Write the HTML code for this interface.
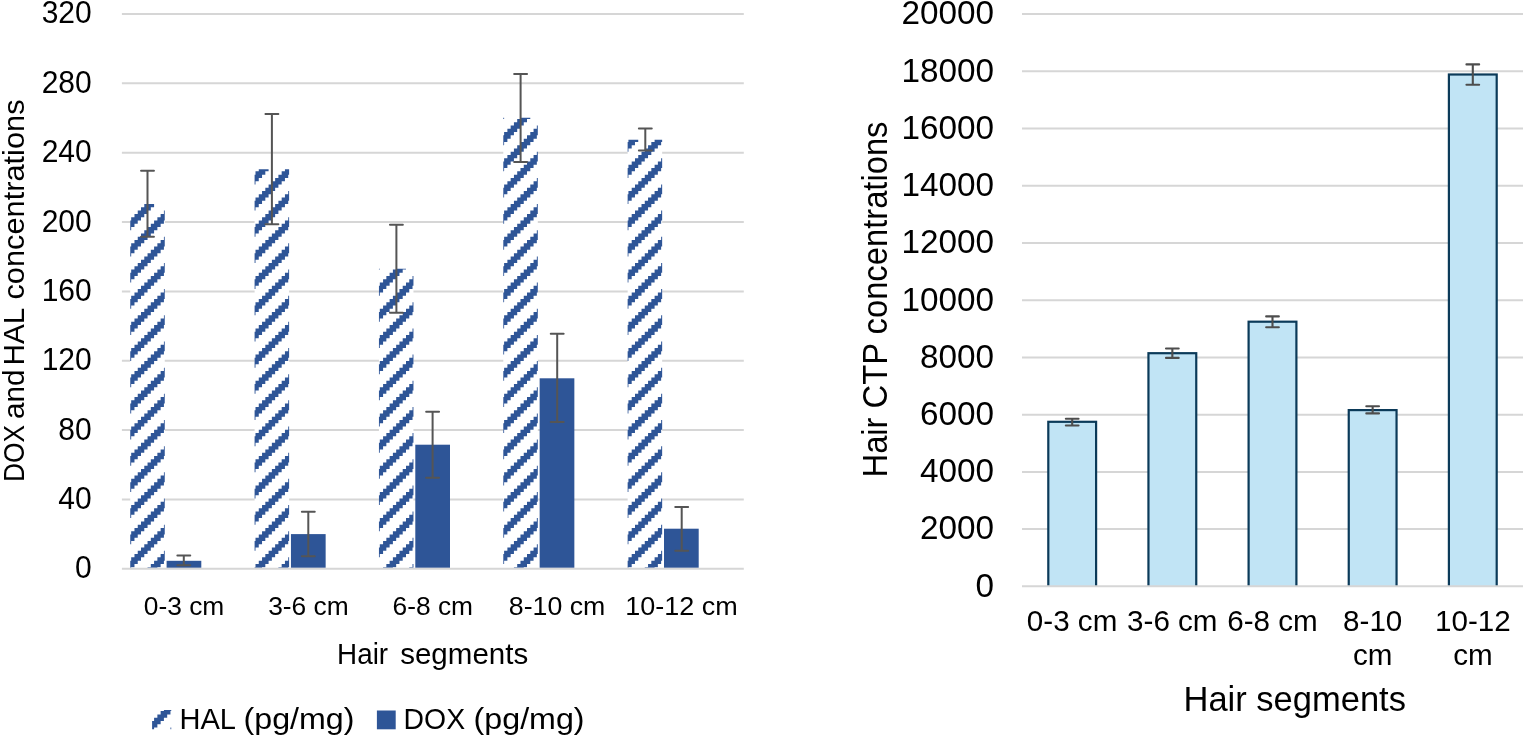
<!DOCTYPE html>
<html><head><meta charset="utf-8"><title>Chart</title>
<style>html,body{margin:0;padding:0;background:#fff;}body{width:1524px;height:737px;overflow:hidden;}svg{display:block;will-change:transform;}text{font-family:"Liberation Sans",sans-serif;fill:#000;}</style>
</head><body>
<svg width="1524" height="737" viewBox="0 0 1524 737">
<rect x="0" y="0" width="1524" height="737" fill="#fff"/>
<line x1="121.90" y1="13.92" x2="743.80" y2="13.92" stroke="#D6D6D6" stroke-width="2.00"/>
<line x1="121.90" y1="83.29" x2="743.80" y2="83.29" stroke="#D6D6D6" stroke-width="2.00"/>
<line x1="121.90" y1="152.65" x2="743.80" y2="152.65" stroke="#D6D6D6" stroke-width="2.00"/>
<line x1="121.90" y1="222.02" x2="743.80" y2="222.02" stroke="#D6D6D6" stroke-width="2.00"/>
<line x1="121.90" y1="291.39" x2="743.80" y2="291.39" stroke="#D6D6D6" stroke-width="2.00"/>
<line x1="121.90" y1="360.75" x2="743.80" y2="360.75" stroke="#D6D6D6" stroke-width="2.00"/>
<line x1="121.90" y1="430.12" x2="743.80" y2="430.12" stroke="#D6D6D6" stroke-width="2.00"/>
<line x1="121.90" y1="499.48" x2="743.80" y2="499.48" stroke="#D6D6D6" stroke-width="2.00"/>
<clipPath id="c0"><rect x="130.25" y="203.90" width="34.50" height="363.95"/></clipPath>
<rect x="130.25" y="203.90" width="34.50" height="363.95" fill="#fff"/>
<path clip-path="url(#c0)" fill="#2E5597" d="M124.65 197.53L124.65 200.80L121.38 200.80L121.38 204.07L131.19 204.07L131.19 200.80L134.47 200.80L134.47 197.53ZM150.82 197.53L150.82 200.80L147.55 200.80L147.55 204.07L144.28 204.07L144.28 207.34L141.01 207.34L141.01 210.61L137.74 210.61L137.74 213.88L134.47 213.88L134.47 217.16L131.19 217.16L131.19 220.43L127.92 220.43L127.92 223.70L124.65 223.70L124.65 226.97L121.38 226.97L121.38 230.24L131.19 230.24L131.19 226.97L134.47 226.97L134.47 223.70L137.74 223.70L137.74 220.43L141.01 220.43L141.01 217.16L144.28 217.16L144.28 213.88L147.55 213.88L147.55 210.61L150.82 210.61L150.82 207.34L154.09 207.34L154.09 204.07L157.37 204.07L157.37 200.80L160.64 200.80L160.64 197.53ZM163.91 210.61L163.91 213.88L160.64 213.88L160.64 217.16L157.37 217.16L157.37 220.43L154.09 220.43L154.09 223.70L150.82 223.70L150.82 226.97L147.55 226.97L147.55 230.24L144.28 230.24L144.28 233.51L141.01 233.51L141.01 236.78L137.74 236.78L137.74 240.05L134.47 240.05L134.47 243.32L131.19 243.32L131.19 246.60L127.92 246.60L127.92 249.87L124.65 249.87L124.65 253.14L121.38 253.14L121.38 256.41L131.19 256.41L131.19 253.14L134.47 253.14L134.47 249.87L137.74 249.87L137.74 246.60L141.01 246.60L141.01 243.32L144.28 243.32L144.28 240.05L147.55 240.05L147.55 236.78L150.82 236.78L150.82 233.51L154.09 233.51L154.09 230.24L157.37 230.24L157.37 226.97L160.64 226.97L160.64 223.70L163.91 223.70L163.91 220.43L167.18 220.43L167.18 217.16L170.45 217.16L170.45 213.88L173.72 213.88L173.72 210.61ZM163.91 236.78L163.91 240.05L160.64 240.05L160.64 243.32L157.37 243.32L157.37 246.60L154.09 246.60L154.09 249.87L150.82 249.87L150.82 253.14L147.55 253.14L147.55 256.41L144.28 256.41L144.28 259.68L141.01 259.68L141.01 262.95L137.74 262.95L137.74 266.22L134.47 266.22L134.47 269.50L131.19 269.50L131.19 272.77L127.92 272.77L127.92 276.04L124.65 276.04L124.65 279.31L121.38 279.31L121.38 282.58L131.19 282.58L131.19 279.31L134.47 279.31L134.47 276.04L137.74 276.04L137.74 272.77L141.01 272.77L141.01 269.50L144.28 269.50L144.28 266.22L147.55 266.22L147.55 262.95L150.82 262.95L150.82 259.68L154.09 259.68L154.09 256.41L157.37 256.41L157.37 253.14L160.64 253.14L160.64 249.87L163.91 249.87L163.91 246.60L167.18 246.60L167.18 243.32L170.45 243.32L170.45 240.05L173.72 240.05L173.72 236.78ZM163.91 262.95L163.91 266.22L160.64 266.22L160.64 269.50L157.37 269.50L157.37 272.77L154.09 272.77L154.09 276.04L150.82 276.04L150.82 279.31L147.55 279.31L147.55 282.58L144.28 282.58L144.28 285.85L141.01 285.85L141.01 289.12L137.74 289.12L137.74 292.39L134.47 292.39L134.47 295.66L131.19 295.66L131.19 298.94L127.92 298.94L127.92 302.21L124.65 302.21L124.65 305.48L121.38 305.48L121.38 308.75L131.19 308.75L131.19 305.48L134.47 305.48L134.47 302.21L137.74 302.21L137.74 298.94L141.01 298.94L141.01 295.66L144.28 295.66L144.28 292.39L147.55 292.39L147.55 289.12L150.82 289.12L150.82 285.85L154.09 285.85L154.09 282.58L157.37 282.58L157.37 279.31L160.64 279.31L160.64 276.04L163.91 276.04L163.91 272.77L167.18 272.77L167.18 269.50L170.45 269.50L170.45 266.22L173.72 266.22L173.72 262.95ZM163.91 289.12L163.91 292.39L160.64 292.39L160.64 295.66L157.37 295.66L157.37 298.94L154.09 298.94L154.09 302.21L150.82 302.21L150.82 305.48L147.55 305.48L147.55 308.75L144.28 308.75L144.28 312.02L141.01 312.02L141.01 315.29L137.74 315.29L137.74 318.56L134.47 318.56L134.47 321.84L131.19 321.84L131.19 325.11L127.92 325.11L127.92 328.38L124.65 328.38L124.65 331.65L121.38 331.65L121.38 334.92L131.19 334.92L131.19 331.65L134.47 331.65L134.47 328.38L137.74 328.38L137.74 325.11L141.01 325.11L141.01 321.84L144.28 321.84L144.28 318.56L147.55 318.56L147.55 315.29L150.82 315.29L150.82 312.02L154.09 312.02L154.09 308.75L157.37 308.75L157.37 305.48L160.64 305.48L160.64 302.21L163.91 302.21L163.91 298.94L167.18 298.94L167.18 295.66L170.45 295.66L170.45 292.39L173.72 292.39L173.72 289.12ZM163.91 315.29L163.91 318.56L160.64 318.56L160.64 321.84L157.37 321.84L157.37 325.11L154.09 325.11L154.09 328.38L150.82 328.38L150.82 331.65L147.55 331.65L147.55 334.92L144.28 334.92L144.28 338.19L141.01 338.19L141.01 341.46L137.74 341.46L137.74 344.73L134.47 344.73L134.47 348.00L131.19 348.00L131.19 351.28L127.92 351.28L127.92 354.55L124.65 354.55L124.65 357.82L121.38 357.82L121.38 361.09L131.19 361.09L131.19 357.82L134.47 357.82L134.47 354.55L137.74 354.55L137.74 351.28L141.01 351.28L141.01 348.00L144.28 348.00L144.28 344.73L147.55 344.73L147.55 341.46L150.82 341.46L150.82 338.19L154.09 338.19L154.09 334.92L157.37 334.92L157.37 331.65L160.64 331.65L160.64 328.38L163.91 328.38L163.91 325.11L167.18 325.11L167.18 321.84L170.45 321.84L170.45 318.56L173.72 318.56L173.72 315.29ZM163.91 341.46L163.91 344.73L160.64 344.73L160.64 348.00L157.37 348.00L157.37 351.28L154.09 351.28L154.09 354.55L150.82 354.55L150.82 357.82L147.55 357.82L147.55 361.09L144.28 361.09L144.28 364.36L141.01 364.36L141.01 367.63L137.74 367.63L137.74 370.90L134.47 370.90L134.47 374.18L131.19 374.18L131.19 377.45L127.92 377.45L127.92 380.72L124.65 380.72L124.65 383.99L121.38 383.99L121.38 387.26L131.19 387.26L131.19 383.99L134.47 383.99L134.47 380.72L137.74 380.72L137.74 377.45L141.01 377.45L141.01 374.18L144.28 374.18L144.28 370.90L147.55 370.90L147.55 367.63L150.82 367.63L150.82 364.36L154.09 364.36L154.09 361.09L157.37 361.09L157.37 357.82L160.64 357.82L160.64 354.55L163.91 354.55L163.91 351.28L167.18 351.28L167.18 348.00L170.45 348.00L170.45 344.73L173.72 344.73L173.72 341.46ZM163.91 367.63L163.91 370.90L160.64 370.90L160.64 374.18L157.37 374.18L157.37 377.45L154.09 377.45L154.09 380.72L150.82 380.72L150.82 383.99L147.55 383.99L147.55 387.26L144.28 387.26L144.28 390.53L141.01 390.53L141.01 393.80L137.74 393.80L137.74 397.07L134.47 397.07L134.47 400.35L131.19 400.35L131.19 403.62L127.92 403.62L127.92 406.89L124.65 406.89L124.65 410.16L121.38 410.16L121.38 413.43L131.19 413.43L131.19 410.16L134.47 410.16L134.47 406.89L137.74 406.89L137.74 403.62L141.01 403.62L141.01 400.35L144.28 400.35L144.28 397.07L147.55 397.07L147.55 393.80L150.82 393.80L150.82 390.53L154.09 390.53L154.09 387.26L157.37 387.26L157.37 383.99L160.64 383.99L160.64 380.72L163.91 380.72L163.91 377.45L167.18 377.45L167.18 374.18L170.45 374.18L170.45 370.90L173.72 370.90L173.72 367.63ZM163.91 393.80L163.91 397.07L160.64 397.07L160.64 400.35L157.37 400.35L157.37 403.62L154.09 403.62L154.09 406.89L150.82 406.89L150.82 410.16L147.55 410.16L147.55 413.43L144.28 413.43L144.28 416.70L141.01 416.70L141.01 419.97L137.74 419.97L137.74 423.24L134.47 423.24L134.47 426.51L131.19 426.51L131.19 429.79L127.92 429.79L127.92 433.06L124.65 433.06L124.65 436.33L121.38 436.33L121.38 439.60L131.19 439.60L131.19 436.33L134.47 436.33L134.47 433.06L137.74 433.06L137.74 429.79L141.01 429.79L141.01 426.51L144.28 426.51L144.28 423.24L147.55 423.24L147.55 419.97L150.82 419.97L150.82 416.70L154.09 416.70L154.09 413.43L157.37 413.43L157.37 410.16L160.64 410.16L160.64 406.89L163.91 406.89L163.91 403.62L167.18 403.62L167.18 400.35L170.45 400.35L170.45 397.07L173.72 397.07L173.72 393.80ZM163.91 419.97L163.91 423.24L160.64 423.24L160.64 426.51L157.37 426.51L157.37 429.79L154.09 429.79L154.09 433.06L150.82 433.06L150.82 436.33L147.55 436.33L147.55 439.60L144.28 439.60L144.28 442.87L141.01 442.87L141.01 446.14L137.74 446.14L137.74 449.41L134.47 449.41L134.47 452.69L131.19 452.69L131.19 455.96L127.92 455.96L127.92 459.23L124.65 459.23L124.65 462.50L121.38 462.50L121.38 465.77L131.19 465.77L131.19 462.50L134.47 462.50L134.47 459.23L137.74 459.23L137.74 455.96L141.01 455.96L141.01 452.69L144.28 452.69L144.28 449.41L147.55 449.41L147.55 446.14L150.82 446.14L150.82 442.87L154.09 442.87L154.09 439.60L157.37 439.60L157.37 436.33L160.64 436.33L160.64 433.06L163.91 433.06L163.91 429.79L167.18 429.79L167.18 426.51L170.45 426.51L170.45 423.24L173.72 423.24L173.72 419.97ZM163.91 446.14L163.91 449.41L160.64 449.41L160.64 452.69L157.37 452.69L157.37 455.96L154.09 455.96L154.09 459.23L150.82 459.23L150.82 462.50L147.55 462.50L147.55 465.77L144.28 465.77L144.28 469.04L141.01 469.04L141.01 472.31L137.74 472.31L137.74 475.58L134.47 475.58L134.47 478.86L131.19 478.86L131.19 482.13L127.92 482.13L127.92 485.40L124.65 485.40L124.65 488.67L121.38 488.67L121.38 491.94L131.19 491.94L131.19 488.67L134.47 488.67L134.47 485.40L137.74 485.40L137.74 482.13L141.01 482.13L141.01 478.86L144.28 478.86L144.28 475.58L147.55 475.58L147.55 472.31L150.82 472.31L150.82 469.04L154.09 469.04L154.09 465.77L157.37 465.77L157.37 462.50L160.64 462.50L160.64 459.23L163.91 459.23L163.91 455.96L167.18 455.96L167.18 452.69L170.45 452.69L170.45 449.41L173.72 449.41L173.72 446.14ZM163.91 472.31L163.91 475.58L160.64 475.58L160.64 478.86L157.37 478.86L157.37 482.13L154.09 482.13L154.09 485.40L150.82 485.40L150.82 488.67L147.55 488.67L147.55 491.94L144.28 491.94L144.28 495.21L141.01 495.21L141.01 498.48L137.74 498.48L137.74 501.75L134.47 501.75L134.47 505.03L131.19 505.03L131.19 508.30L127.92 508.30L127.92 511.57L124.65 511.57L124.65 514.84L121.38 514.84L121.38 518.11L131.19 518.11L131.19 514.84L134.47 514.84L134.47 511.57L137.74 511.57L137.74 508.30L141.01 508.30L141.01 505.03L144.28 505.03L144.28 501.75L147.55 501.75L147.55 498.48L150.82 498.48L150.82 495.21L154.09 495.21L154.09 491.94L157.37 491.94L157.37 488.67L160.64 488.67L160.64 485.40L163.91 485.40L163.91 482.13L167.18 482.13L167.18 478.86L170.45 478.86L170.45 475.58L173.72 475.58L173.72 472.31ZM163.91 498.48L163.91 501.75L160.64 501.75L160.64 505.03L157.37 505.03L157.37 508.30L154.09 508.30L154.09 511.57L150.82 511.57L150.82 514.84L147.55 514.84L147.55 518.11L144.28 518.11L144.28 521.38L141.01 521.38L141.01 524.65L137.74 524.65L137.74 527.92L134.47 527.92L134.47 531.19L131.19 531.19L131.19 534.47L127.92 534.47L127.92 537.74L124.65 537.74L124.65 541.01L121.38 541.01L121.38 544.28L131.19 544.28L131.19 541.01L134.47 541.01L134.47 537.74L137.74 537.74L137.74 534.47L141.01 534.47L141.01 531.19L144.28 531.19L144.28 527.92L147.55 527.92L147.55 524.65L150.82 524.65L150.82 521.38L154.09 521.38L154.09 518.11L157.37 518.11L157.37 514.84L160.64 514.84L160.64 511.57L163.91 511.57L163.91 508.30L167.18 508.30L167.18 505.03L170.45 505.03L170.45 501.75L173.72 501.75L173.72 498.48ZM163.91 524.65L163.91 527.92L160.64 527.92L160.64 531.19L157.37 531.19L157.37 534.47L154.09 534.47L154.09 537.74L150.82 537.74L150.82 541.01L147.55 541.01L147.55 544.28L144.28 544.28L144.28 547.55L141.01 547.55L141.01 550.82L137.74 550.82L137.74 554.09L134.47 554.09L134.47 557.37L131.19 557.37L131.19 560.64L127.92 560.64L127.92 563.91L124.65 563.91L124.65 567.18L121.38 567.18L121.38 570.45L131.19 570.45L131.19 567.18L134.47 567.18L134.47 563.91L137.74 563.91L137.74 560.64L141.01 560.64L141.01 557.37L144.28 557.37L144.28 554.09L147.55 554.09L147.55 550.82L150.82 550.82L150.82 547.55L154.09 547.55L154.09 544.28L157.37 544.28L157.37 541.01L160.64 541.01L160.64 537.74L163.91 537.74L163.91 534.47L167.18 534.47L167.18 531.19L170.45 531.19L170.45 527.92L173.72 527.92L173.72 524.65ZM163.91 550.82L163.91 554.09L160.64 554.09L160.64 557.37L157.37 557.37L157.37 560.64L154.09 560.64L154.09 563.91L150.82 563.91L150.82 567.18L147.55 567.18L147.55 570.45L144.28 570.45L144.28 573.72L141.01 573.72L141.01 576.99L150.82 576.99L150.82 573.72L154.09 573.72L154.09 570.45L157.37 570.45L157.37 567.18L160.64 567.18L160.64 563.91L163.91 563.91L163.91 560.64L167.18 560.64L167.18 557.37L170.45 557.37L170.45 554.09L173.72 554.09L173.72 550.82Z"/>
<rect x="166.60" y="560.80" width="34.70" height="7.05" fill="#2E5597"/>
<clipPath id="c1"><rect x="254.60" y="169.30" width="34.50" height="398.55"/></clipPath>
<rect x="254.60" y="169.30" width="34.50" height="398.55" fill="#fff"/>
<path clip-path="url(#c1)" fill="#2E5597" d="M262.05 164.81L262.05 168.09L258.77 168.09L258.77 171.36L255.50 171.36L255.50 174.63L252.23 174.63L252.23 177.90L248.96 177.90L248.96 181.17L245.69 181.17L245.69 184.44L255.50 184.44L255.50 181.17L258.77 181.17L258.77 177.90L262.05 177.90L262.05 174.63L265.32 174.63L265.32 171.36L268.59 171.36L268.59 168.09L271.86 168.09L271.86 164.81ZM288.22 164.81L288.22 168.09L284.94 168.09L284.94 171.36L281.67 171.36L281.67 174.63L278.40 174.63L278.40 177.90L275.13 177.90L275.13 181.17L271.86 181.17L271.86 184.44L268.59 184.44L268.59 187.71L265.32 187.71L265.32 190.98L262.05 190.98L262.05 194.26L258.77 194.26L258.77 197.53L255.50 197.53L255.50 200.80L252.23 200.80L252.23 204.07L248.96 204.07L248.96 207.34L245.69 207.34L245.69 210.61L255.50 210.61L255.50 207.34L258.77 207.34L258.77 204.07L262.05 204.07L262.05 200.80L265.32 200.80L265.32 197.53L268.59 197.53L268.59 194.26L271.86 194.26L271.86 190.98L275.13 190.98L275.13 187.71L278.40 187.71L278.40 184.44L281.67 184.44L281.67 181.17L284.94 181.17L284.94 177.90L288.22 177.90L288.22 174.63L291.49 174.63L291.49 171.36L294.76 171.36L294.76 168.09L298.03 168.09L298.03 164.81ZM288.22 190.98L288.22 194.26L284.94 194.26L284.94 197.53L281.67 197.53L281.67 200.80L278.40 200.80L278.40 204.07L275.13 204.07L275.13 207.34L271.86 207.34L271.86 210.61L268.59 210.61L268.59 213.88L265.32 213.88L265.32 217.16L262.05 217.16L262.05 220.43L258.77 220.43L258.77 223.70L255.50 223.70L255.50 226.97L252.23 226.97L252.23 230.24L248.96 230.24L248.96 233.51L245.69 233.51L245.69 236.78L255.50 236.78L255.50 233.51L258.77 233.51L258.77 230.24L262.05 230.24L262.05 226.97L265.32 226.97L265.32 223.70L268.59 223.70L268.59 220.43L271.86 220.43L271.86 217.16L275.13 217.16L275.13 213.88L278.40 213.88L278.40 210.61L281.67 210.61L281.67 207.34L284.94 207.34L284.94 204.07L288.22 204.07L288.22 200.80L291.49 200.80L291.49 197.53L294.76 197.53L294.76 194.26L298.03 194.26L298.03 190.98ZM288.22 217.16L288.22 220.43L284.94 220.43L284.94 223.70L281.67 223.70L281.67 226.97L278.40 226.97L278.40 230.24L275.13 230.24L275.13 233.51L271.86 233.51L271.86 236.78L268.59 236.78L268.59 240.05L265.32 240.05L265.32 243.32L262.05 243.32L262.05 246.60L258.77 246.60L258.77 249.87L255.50 249.87L255.50 253.14L252.23 253.14L252.23 256.41L248.96 256.41L248.96 259.68L245.69 259.68L245.69 262.95L255.50 262.95L255.50 259.68L258.77 259.68L258.77 256.41L262.05 256.41L262.05 253.14L265.32 253.14L265.32 249.87L268.59 249.87L268.59 246.60L271.86 246.60L271.86 243.32L275.13 243.32L275.13 240.05L278.40 240.05L278.40 236.78L281.67 236.78L281.67 233.51L284.94 233.51L284.94 230.24L288.22 230.24L288.22 226.97L291.49 226.97L291.49 223.70L294.76 223.70L294.76 220.43L298.03 220.43L298.03 217.16ZM288.22 243.32L288.22 246.60L284.94 246.60L284.94 249.87L281.67 249.87L281.67 253.14L278.40 253.14L278.40 256.41L275.13 256.41L275.13 259.68L271.86 259.68L271.86 262.95L268.59 262.95L268.59 266.22L265.32 266.22L265.32 269.50L262.05 269.50L262.05 272.77L258.77 272.77L258.77 276.04L255.50 276.04L255.50 279.31L252.23 279.31L252.23 282.58L248.96 282.58L248.96 285.85L245.69 285.85L245.69 289.12L255.50 289.12L255.50 285.85L258.77 285.85L258.77 282.58L262.05 282.58L262.05 279.31L265.32 279.31L265.32 276.04L268.59 276.04L268.59 272.77L271.86 272.77L271.86 269.50L275.13 269.50L275.13 266.22L278.40 266.22L278.40 262.95L281.67 262.95L281.67 259.68L284.94 259.68L284.94 256.41L288.22 256.41L288.22 253.14L291.49 253.14L291.49 249.87L294.76 249.87L294.76 246.60L298.03 246.60L298.03 243.32ZM288.22 269.50L288.22 272.77L284.94 272.77L284.94 276.04L281.67 276.04L281.67 279.31L278.40 279.31L278.40 282.58L275.13 282.58L275.13 285.85L271.86 285.85L271.86 289.12L268.59 289.12L268.59 292.39L265.32 292.39L265.32 295.66L262.05 295.66L262.05 298.94L258.77 298.94L258.77 302.21L255.50 302.21L255.50 305.48L252.23 305.48L252.23 308.75L248.96 308.75L248.96 312.02L245.69 312.02L245.69 315.29L255.50 315.29L255.50 312.02L258.77 312.02L258.77 308.75L262.05 308.75L262.05 305.48L265.32 305.48L265.32 302.21L268.59 302.21L268.59 298.94L271.86 298.94L271.86 295.66L275.13 295.66L275.13 292.39L278.40 292.39L278.40 289.12L281.67 289.12L281.67 285.85L284.94 285.85L284.94 282.58L288.22 282.58L288.22 279.31L291.49 279.31L291.49 276.04L294.76 276.04L294.76 272.77L298.03 272.77L298.03 269.50ZM288.22 295.66L288.22 298.94L284.94 298.94L284.94 302.21L281.67 302.21L281.67 305.48L278.40 305.48L278.40 308.75L275.13 308.75L275.13 312.02L271.86 312.02L271.86 315.29L268.59 315.29L268.59 318.56L265.32 318.56L265.32 321.84L262.05 321.84L262.05 325.11L258.77 325.11L258.77 328.38L255.50 328.38L255.50 331.65L252.23 331.65L252.23 334.92L248.96 334.92L248.96 338.19L245.69 338.19L245.69 341.46L255.50 341.46L255.50 338.19L258.77 338.19L258.77 334.92L262.05 334.92L262.05 331.65L265.32 331.65L265.32 328.38L268.59 328.38L268.59 325.11L271.86 325.11L271.86 321.84L275.13 321.84L275.13 318.56L278.40 318.56L278.40 315.29L281.67 315.29L281.67 312.02L284.94 312.02L284.94 308.75L288.22 308.75L288.22 305.48L291.49 305.48L291.49 302.21L294.76 302.21L294.76 298.94L298.03 298.94L298.03 295.66ZM288.22 321.84L288.22 325.11L284.94 325.11L284.94 328.38L281.67 328.38L281.67 331.65L278.40 331.65L278.40 334.92L275.13 334.92L275.13 338.19L271.86 338.19L271.86 341.46L268.59 341.46L268.59 344.73L265.32 344.73L265.32 348.00L262.05 348.00L262.05 351.28L258.77 351.28L258.77 354.55L255.50 354.55L255.50 357.82L252.23 357.82L252.23 361.09L248.96 361.09L248.96 364.36L245.69 364.36L245.69 367.63L255.50 367.63L255.50 364.36L258.77 364.36L258.77 361.09L262.05 361.09L262.05 357.82L265.32 357.82L265.32 354.55L268.59 354.55L268.59 351.28L271.86 351.28L271.86 348.00L275.13 348.00L275.13 344.73L278.40 344.73L278.40 341.46L281.67 341.46L281.67 338.19L284.94 338.19L284.94 334.92L288.22 334.92L288.22 331.65L291.49 331.65L291.49 328.38L294.76 328.38L294.76 325.11L298.03 325.11L298.03 321.84ZM288.22 348.00L288.22 351.28L284.94 351.28L284.94 354.55L281.67 354.55L281.67 357.82L278.40 357.82L278.40 361.09L275.13 361.09L275.13 364.36L271.86 364.36L271.86 367.63L268.59 367.63L268.59 370.90L265.32 370.90L265.32 374.18L262.05 374.18L262.05 377.45L258.77 377.45L258.77 380.72L255.50 380.72L255.50 383.99L252.23 383.99L252.23 387.26L248.96 387.26L248.96 390.53L245.69 390.53L245.69 393.80L255.50 393.80L255.50 390.53L258.77 390.53L258.77 387.26L262.05 387.26L262.05 383.99L265.32 383.99L265.32 380.72L268.59 380.72L268.59 377.45L271.86 377.45L271.86 374.18L275.13 374.18L275.13 370.90L278.40 370.90L278.40 367.63L281.67 367.63L281.67 364.36L284.94 364.36L284.94 361.09L288.22 361.09L288.22 357.82L291.49 357.82L291.49 354.55L294.76 354.55L294.76 351.28L298.03 351.28L298.03 348.00ZM288.22 374.18L288.22 377.45L284.94 377.45L284.94 380.72L281.67 380.72L281.67 383.99L278.40 383.99L278.40 387.26L275.13 387.26L275.13 390.53L271.86 390.53L271.86 393.80L268.59 393.80L268.59 397.07L265.32 397.07L265.32 400.35L262.05 400.35L262.05 403.62L258.77 403.62L258.77 406.89L255.50 406.89L255.50 410.16L252.23 410.16L252.23 413.43L248.96 413.43L248.96 416.70L245.69 416.70L245.69 419.97L255.50 419.97L255.50 416.70L258.77 416.70L258.77 413.43L262.05 413.43L262.05 410.16L265.32 410.16L265.32 406.89L268.59 406.89L268.59 403.62L271.86 403.62L271.86 400.35L275.13 400.35L275.13 397.07L278.40 397.07L278.40 393.80L281.67 393.80L281.67 390.53L284.94 390.53L284.94 387.26L288.22 387.26L288.22 383.99L291.49 383.99L291.49 380.72L294.76 380.72L294.76 377.45L298.03 377.45L298.03 374.18ZM288.22 400.35L288.22 403.62L284.94 403.62L284.94 406.89L281.67 406.89L281.67 410.16L278.40 410.16L278.40 413.43L275.13 413.43L275.13 416.70L271.86 416.70L271.86 419.97L268.59 419.97L268.59 423.24L265.32 423.24L265.32 426.51L262.05 426.51L262.05 429.79L258.77 429.79L258.77 433.06L255.50 433.06L255.50 436.33L252.23 436.33L252.23 439.60L248.96 439.60L248.96 442.87L245.69 442.87L245.69 446.14L255.50 446.14L255.50 442.87L258.77 442.87L258.77 439.60L262.05 439.60L262.05 436.33L265.32 436.33L265.32 433.06L268.59 433.06L268.59 429.79L271.86 429.79L271.86 426.51L275.13 426.51L275.13 423.24L278.40 423.24L278.40 419.97L281.67 419.97L281.67 416.70L284.94 416.70L284.94 413.43L288.22 413.43L288.22 410.16L291.49 410.16L291.49 406.89L294.76 406.89L294.76 403.62L298.03 403.62L298.03 400.35ZM288.22 426.51L288.22 429.79L284.94 429.79L284.94 433.06L281.67 433.06L281.67 436.33L278.40 436.33L278.40 439.60L275.13 439.60L275.13 442.87L271.86 442.87L271.86 446.14L268.59 446.14L268.59 449.41L265.32 449.41L265.32 452.69L262.05 452.69L262.05 455.96L258.77 455.96L258.77 459.23L255.50 459.23L255.50 462.50L252.23 462.50L252.23 465.77L248.96 465.77L248.96 469.04L245.69 469.04L245.69 472.31L255.50 472.31L255.50 469.04L258.77 469.04L258.77 465.77L262.05 465.77L262.05 462.50L265.32 462.50L265.32 459.23L268.59 459.23L268.59 455.96L271.86 455.96L271.86 452.69L275.13 452.69L275.13 449.41L278.40 449.41L278.40 446.14L281.67 446.14L281.67 442.87L284.94 442.87L284.94 439.60L288.22 439.60L288.22 436.33L291.49 436.33L291.49 433.06L294.76 433.06L294.76 429.79L298.03 429.79L298.03 426.51ZM288.22 452.69L288.22 455.96L284.94 455.96L284.94 459.23L281.67 459.23L281.67 462.50L278.40 462.50L278.40 465.77L275.13 465.77L275.13 469.04L271.86 469.04L271.86 472.31L268.59 472.31L268.59 475.58L265.32 475.58L265.32 478.86L262.05 478.86L262.05 482.13L258.77 482.13L258.77 485.40L255.50 485.40L255.50 488.67L252.23 488.67L252.23 491.94L248.96 491.94L248.96 495.21L245.69 495.21L245.69 498.48L255.50 498.48L255.50 495.21L258.77 495.21L258.77 491.94L262.05 491.94L262.05 488.67L265.32 488.67L265.32 485.40L268.59 485.40L268.59 482.13L271.86 482.13L271.86 478.86L275.13 478.86L275.13 475.58L278.40 475.58L278.40 472.31L281.67 472.31L281.67 469.04L284.94 469.04L284.94 465.77L288.22 465.77L288.22 462.50L291.49 462.50L291.49 459.23L294.76 459.23L294.76 455.96L298.03 455.96L298.03 452.69ZM288.22 478.86L288.22 482.13L284.94 482.13L284.94 485.40L281.67 485.40L281.67 488.67L278.40 488.67L278.40 491.94L275.13 491.94L275.13 495.21L271.86 495.21L271.86 498.48L268.59 498.48L268.59 501.75L265.32 501.75L265.32 505.03L262.05 505.03L262.05 508.30L258.77 508.30L258.77 511.57L255.50 511.57L255.50 514.84L252.23 514.84L252.23 518.11L248.96 518.11L248.96 521.38L245.69 521.38L245.69 524.65L255.50 524.65L255.50 521.38L258.77 521.38L258.77 518.11L262.05 518.11L262.05 514.84L265.32 514.84L265.32 511.57L268.59 511.57L268.59 508.30L271.86 508.30L271.86 505.03L275.13 505.03L275.13 501.75L278.40 501.75L278.40 498.48L281.67 498.48L281.67 495.21L284.94 495.21L284.94 491.94L288.22 491.94L288.22 488.67L291.49 488.67L291.49 485.40L294.76 485.40L294.76 482.13L298.03 482.13L298.03 478.86ZM288.22 505.03L288.22 508.30L284.94 508.30L284.94 511.57L281.67 511.57L281.67 514.84L278.40 514.84L278.40 518.11L275.13 518.11L275.13 521.38L271.86 521.38L271.86 524.65L268.59 524.65L268.59 527.92L265.32 527.92L265.32 531.19L262.05 531.19L262.05 534.47L258.77 534.47L258.77 537.74L255.50 537.74L255.50 541.01L252.23 541.01L252.23 544.28L248.96 544.28L248.96 547.55L245.69 547.55L245.69 550.82L255.50 550.82L255.50 547.55L258.77 547.55L258.77 544.28L262.05 544.28L262.05 541.01L265.32 541.01L265.32 537.74L268.59 537.74L268.59 534.47L271.86 534.47L271.86 531.19L275.13 531.19L275.13 527.92L278.40 527.92L278.40 524.65L281.67 524.65L281.67 521.38L284.94 521.38L284.94 518.11L288.22 518.11L288.22 514.84L291.49 514.84L291.49 511.57L294.76 511.57L294.76 508.30L298.03 508.30L298.03 505.03ZM288.22 531.19L288.22 534.47L284.94 534.47L284.94 537.74L281.67 537.74L281.67 541.01L278.40 541.01L278.40 544.28L275.13 544.28L275.13 547.55L271.86 547.55L271.86 550.82L268.59 550.82L268.59 554.09L265.32 554.09L265.32 557.37L262.05 557.37L262.05 560.64L258.77 560.64L258.77 563.91L255.50 563.91L255.50 567.18L252.23 567.18L252.23 570.45L248.96 570.45L248.96 573.72L245.69 573.72L245.69 576.99L255.50 576.99L255.50 573.72L258.77 573.72L258.77 570.45L262.05 570.45L262.05 567.18L265.32 567.18L265.32 563.91L268.59 563.91L268.59 560.64L271.86 560.64L271.86 557.37L275.13 557.37L275.13 554.09L278.40 554.09L278.40 550.82L281.67 550.82L281.67 547.55L284.94 547.55L284.94 544.28L288.22 544.28L288.22 541.01L291.49 541.01L291.49 537.74L294.76 537.74L294.76 534.47L298.03 534.47L298.03 531.19ZM288.22 557.37L288.22 560.64L284.94 560.64L284.94 563.91L281.67 563.91L281.67 567.18L278.40 567.18L278.40 570.45L275.13 570.45L275.13 573.72L271.86 573.72L271.86 576.99L281.67 576.99L281.67 573.72L284.94 573.72L284.94 570.45L288.22 570.45L288.22 567.18L291.49 567.18L291.49 563.91L294.76 563.91L294.76 560.64L298.03 560.64L298.03 557.37Z"/>
<rect x="290.95" y="534.10" width="34.70" height="33.75" fill="#2E5597"/>
<clipPath id="c2"><rect x="378.95" y="268.80" width="34.50" height="299.05"/></clipPath>
<rect x="378.95" y="268.80" width="34.50" height="299.05" fill="#fff"/>
<path clip-path="url(#c2)" fill="#2E5597" d="M373.27 262.95L373.27 266.22L370.00 266.22L370.00 269.50L379.81 269.50L379.81 266.22L383.08 266.22L383.08 262.95ZM399.44 262.95L399.44 266.22L396.17 266.22L396.17 269.50L392.89 269.50L392.89 272.77L389.62 272.77L389.62 276.04L386.35 276.04L386.35 279.31L383.08 279.31L383.08 282.58L379.81 282.58L379.81 285.85L376.54 285.85L376.54 289.12L373.27 289.12L373.27 292.39L370.00 292.39L370.00 295.66L379.81 295.66L379.81 292.39L383.08 292.39L383.08 289.12L386.35 289.12L386.35 285.85L389.62 285.85L389.62 282.58L392.89 282.58L392.89 279.31L396.17 279.31L396.17 276.04L399.44 276.04L399.44 272.77L402.71 272.77L402.71 269.50L405.98 269.50L405.98 266.22L409.25 266.22L409.25 262.95ZM412.52 276.04L412.52 279.31L409.25 279.31L409.25 282.58L405.98 282.58L405.98 285.85L402.71 285.85L402.71 289.12L399.44 289.12L399.44 292.39L396.17 292.39L396.17 295.66L392.89 295.66L392.89 298.94L389.62 298.94L389.62 302.21L386.35 302.21L386.35 305.48L383.08 305.48L383.08 308.75L379.81 308.75L379.81 312.02L376.54 312.02L376.54 315.29L373.27 315.29L373.27 318.56L370.00 318.56L370.00 321.84L379.81 321.84L379.81 318.56L383.08 318.56L383.08 315.29L386.35 315.29L386.35 312.02L389.62 312.02L389.62 308.75L392.89 308.75L392.89 305.48L396.17 305.48L396.17 302.21L399.44 302.21L399.44 298.94L402.71 298.94L402.71 295.66L405.98 295.66L405.98 292.39L409.25 292.39L409.25 289.12L412.52 289.12L412.52 285.85L415.79 285.85L415.79 282.58L419.07 282.58L419.07 279.31L422.34 279.31L422.34 276.04ZM412.52 302.21L412.52 305.48L409.25 305.48L409.25 308.75L405.98 308.75L405.98 312.02L402.71 312.02L402.71 315.29L399.44 315.29L399.44 318.56L396.17 318.56L396.17 321.84L392.89 321.84L392.89 325.11L389.62 325.11L389.62 328.38L386.35 328.38L386.35 331.65L383.08 331.65L383.08 334.92L379.81 334.92L379.81 338.19L376.54 338.19L376.54 341.46L373.27 341.46L373.27 344.73L370.00 344.73L370.00 348.00L379.81 348.00L379.81 344.73L383.08 344.73L383.08 341.46L386.35 341.46L386.35 338.19L389.62 338.19L389.62 334.92L392.89 334.92L392.89 331.65L396.17 331.65L396.17 328.38L399.44 328.38L399.44 325.11L402.71 325.11L402.71 321.84L405.98 321.84L405.98 318.56L409.25 318.56L409.25 315.29L412.52 315.29L412.52 312.02L415.79 312.02L415.79 308.75L419.07 308.75L419.07 305.48L422.34 305.48L422.34 302.21ZM412.52 328.38L412.52 331.65L409.25 331.65L409.25 334.92L405.98 334.92L405.98 338.19L402.71 338.19L402.71 341.46L399.44 341.46L399.44 344.73L396.17 344.73L396.17 348.00L392.89 348.00L392.89 351.28L389.62 351.28L389.62 354.55L386.35 354.55L386.35 357.82L383.08 357.82L383.08 361.09L379.81 361.09L379.81 364.36L376.54 364.36L376.54 367.63L373.27 367.63L373.27 370.90L370.00 370.90L370.00 374.18L379.81 374.18L379.81 370.90L383.08 370.90L383.08 367.63L386.35 367.63L386.35 364.36L389.62 364.36L389.62 361.09L392.89 361.09L392.89 357.82L396.17 357.82L396.17 354.55L399.44 354.55L399.44 351.28L402.71 351.28L402.71 348.00L405.98 348.00L405.98 344.73L409.25 344.73L409.25 341.46L412.52 341.46L412.52 338.19L415.79 338.19L415.79 334.92L419.07 334.92L419.07 331.65L422.34 331.65L422.34 328.38ZM412.52 354.55L412.52 357.82L409.25 357.82L409.25 361.09L405.98 361.09L405.98 364.36L402.71 364.36L402.71 367.63L399.44 367.63L399.44 370.90L396.17 370.90L396.17 374.18L392.89 374.18L392.89 377.45L389.62 377.45L389.62 380.72L386.35 380.72L386.35 383.99L383.08 383.99L383.08 387.26L379.81 387.26L379.81 390.53L376.54 390.53L376.54 393.80L373.27 393.80L373.27 397.07L370.00 397.07L370.00 400.35L379.81 400.35L379.81 397.07L383.08 397.07L383.08 393.80L386.35 393.80L386.35 390.53L389.62 390.53L389.62 387.26L392.89 387.26L392.89 383.99L396.17 383.99L396.17 380.72L399.44 380.72L399.44 377.45L402.71 377.45L402.71 374.18L405.98 374.18L405.98 370.90L409.25 370.90L409.25 367.63L412.52 367.63L412.52 364.36L415.79 364.36L415.79 361.09L419.07 361.09L419.07 357.82L422.34 357.82L422.34 354.55ZM412.52 380.72L412.52 383.99L409.25 383.99L409.25 387.26L405.98 387.26L405.98 390.53L402.71 390.53L402.71 393.80L399.44 393.80L399.44 397.07L396.17 397.07L396.17 400.35L392.89 400.35L392.89 403.62L389.62 403.62L389.62 406.89L386.35 406.89L386.35 410.16L383.08 410.16L383.08 413.43L379.81 413.43L379.81 416.70L376.54 416.70L376.54 419.97L373.27 419.97L373.27 423.24L370.00 423.24L370.00 426.51L379.81 426.51L379.81 423.24L383.08 423.24L383.08 419.97L386.35 419.97L386.35 416.70L389.62 416.70L389.62 413.43L392.89 413.43L392.89 410.16L396.17 410.16L396.17 406.89L399.44 406.89L399.44 403.62L402.71 403.62L402.71 400.35L405.98 400.35L405.98 397.07L409.25 397.07L409.25 393.80L412.52 393.80L412.52 390.53L415.79 390.53L415.79 387.26L419.07 387.26L419.07 383.99L422.34 383.99L422.34 380.72ZM412.52 406.89L412.52 410.16L409.25 410.16L409.25 413.43L405.98 413.43L405.98 416.70L402.71 416.70L402.71 419.97L399.44 419.97L399.44 423.24L396.17 423.24L396.17 426.51L392.89 426.51L392.89 429.79L389.62 429.79L389.62 433.06L386.35 433.06L386.35 436.33L383.08 436.33L383.08 439.60L379.81 439.60L379.81 442.87L376.54 442.87L376.54 446.14L373.27 446.14L373.27 449.41L370.00 449.41L370.00 452.69L379.81 452.69L379.81 449.41L383.08 449.41L383.08 446.14L386.35 446.14L386.35 442.87L389.62 442.87L389.62 439.60L392.89 439.60L392.89 436.33L396.17 436.33L396.17 433.06L399.44 433.06L399.44 429.79L402.71 429.79L402.71 426.51L405.98 426.51L405.98 423.24L409.25 423.24L409.25 419.97L412.52 419.97L412.52 416.70L415.79 416.70L415.79 413.43L419.07 413.43L419.07 410.16L422.34 410.16L422.34 406.89ZM412.52 433.06L412.52 436.33L409.25 436.33L409.25 439.60L405.98 439.60L405.98 442.87L402.71 442.87L402.71 446.14L399.44 446.14L399.44 449.41L396.17 449.41L396.17 452.69L392.89 452.69L392.89 455.96L389.62 455.96L389.62 459.23L386.35 459.23L386.35 462.50L383.08 462.50L383.08 465.77L379.81 465.77L379.81 469.04L376.54 469.04L376.54 472.31L373.27 472.31L373.27 475.58L370.00 475.58L370.00 478.86L379.81 478.86L379.81 475.58L383.08 475.58L383.08 472.31L386.35 472.31L386.35 469.04L389.62 469.04L389.62 465.77L392.89 465.77L392.89 462.50L396.17 462.50L396.17 459.23L399.44 459.23L399.44 455.96L402.71 455.96L402.71 452.69L405.98 452.69L405.98 449.41L409.25 449.41L409.25 446.14L412.52 446.14L412.52 442.87L415.79 442.87L415.79 439.60L419.07 439.60L419.07 436.33L422.34 436.33L422.34 433.06ZM412.52 459.23L412.52 462.50L409.25 462.50L409.25 465.77L405.98 465.77L405.98 469.04L402.71 469.04L402.71 472.31L399.44 472.31L399.44 475.58L396.17 475.58L396.17 478.86L392.89 478.86L392.89 482.13L389.62 482.13L389.62 485.40L386.35 485.40L386.35 488.67L383.08 488.67L383.08 491.94L379.81 491.94L379.81 495.21L376.54 495.21L376.54 498.48L373.27 498.48L373.27 501.75L370.00 501.75L370.00 505.03L379.81 505.03L379.81 501.75L383.08 501.75L383.08 498.48L386.35 498.48L386.35 495.21L389.62 495.21L389.62 491.94L392.89 491.94L392.89 488.67L396.17 488.67L396.17 485.40L399.44 485.40L399.44 482.13L402.71 482.13L402.71 478.86L405.98 478.86L405.98 475.58L409.25 475.58L409.25 472.31L412.52 472.31L412.52 469.04L415.79 469.04L415.79 465.77L419.07 465.77L419.07 462.50L422.34 462.50L422.34 459.23ZM412.52 485.40L412.52 488.67L409.25 488.67L409.25 491.94L405.98 491.94L405.98 495.21L402.71 495.21L402.71 498.48L399.44 498.48L399.44 501.75L396.17 501.75L396.17 505.03L392.89 505.03L392.89 508.30L389.62 508.30L389.62 511.57L386.35 511.57L386.35 514.84L383.08 514.84L383.08 518.11L379.81 518.11L379.81 521.38L376.54 521.38L376.54 524.65L373.27 524.65L373.27 527.92L370.00 527.92L370.00 531.19L379.81 531.19L379.81 527.92L383.08 527.92L383.08 524.65L386.35 524.65L386.35 521.38L389.62 521.38L389.62 518.11L392.89 518.11L392.89 514.84L396.17 514.84L396.17 511.57L399.44 511.57L399.44 508.30L402.71 508.30L402.71 505.03L405.98 505.03L405.98 501.75L409.25 501.75L409.25 498.48L412.52 498.48L412.52 495.21L415.79 495.21L415.79 491.94L419.07 491.94L419.07 488.67L422.34 488.67L422.34 485.40ZM412.52 511.57L412.52 514.84L409.25 514.84L409.25 518.11L405.98 518.11L405.98 521.38L402.71 521.38L402.71 524.65L399.44 524.65L399.44 527.92L396.17 527.92L396.17 531.19L392.89 531.19L392.89 534.47L389.62 534.47L389.62 537.74L386.35 537.74L386.35 541.01L383.08 541.01L383.08 544.28L379.81 544.28L379.81 547.55L376.54 547.55L376.54 550.82L373.27 550.82L373.27 554.09L370.00 554.09L370.00 557.37L379.81 557.37L379.81 554.09L383.08 554.09L383.08 550.82L386.35 550.82L386.35 547.55L389.62 547.55L389.62 544.28L392.89 544.28L392.89 541.01L396.17 541.01L396.17 537.74L399.44 537.74L399.44 534.47L402.71 534.47L402.71 531.19L405.98 531.19L405.98 527.92L409.25 527.92L409.25 524.65L412.52 524.65L412.52 521.38L415.79 521.38L415.79 518.11L419.07 518.11L419.07 514.84L422.34 514.84L422.34 511.57ZM412.52 537.74L412.52 541.01L409.25 541.01L409.25 544.28L405.98 544.28L405.98 547.55L402.71 547.55L402.71 550.82L399.44 550.82L399.44 554.09L396.17 554.09L396.17 557.37L392.89 557.37L392.89 560.64L389.62 560.64L389.62 563.91L386.35 563.91L386.35 567.18L383.08 567.18L383.08 570.45L379.81 570.45L379.81 573.72L376.54 573.72L376.54 576.99L386.35 576.99L386.35 573.72L389.62 573.72L389.62 570.45L392.89 570.45L392.89 567.18L396.17 567.18L396.17 563.91L399.44 563.91L399.44 560.64L402.71 560.64L402.71 557.37L405.98 557.37L405.98 554.09L409.25 554.09L409.25 550.82L412.52 550.82L412.52 547.55L415.79 547.55L415.79 544.28L419.07 544.28L419.07 541.01L422.34 541.01L422.34 537.74ZM412.52 563.91L412.52 567.18L409.25 567.18L409.25 570.45L405.98 570.45L405.98 573.72L402.71 573.72L402.71 576.99L412.52 576.99L412.52 573.72L415.79 573.72L415.79 570.45L419.07 570.45L419.07 567.18L422.34 567.18L422.34 563.91Z"/>
<rect x="415.30" y="444.70" width="34.70" height="123.15" fill="#2E5597"/>
<clipPath id="c3"><rect x="503.30" y="117.70" width="34.50" height="450.15"/></clipPath>
<rect x="503.30" y="117.70" width="34.50" height="450.15" fill="#fff"/>
<path clip-path="url(#c3)" fill="#2E5597" d="M497.58 112.47L497.58 115.75L494.30 115.75L494.30 119.02L504.12 119.02L504.12 115.75L507.39 115.75L507.39 112.47ZM523.75 112.47L523.75 115.75L520.47 115.75L520.47 119.02L517.20 119.02L517.20 122.29L513.93 122.29L513.93 125.56L510.66 125.56L510.66 128.83L507.39 128.83L507.39 132.10L504.12 132.10L504.12 135.37L500.85 135.37L500.85 138.64L497.58 138.64L497.58 141.92L494.30 141.92L494.30 145.19L504.12 145.19L504.12 141.92L507.39 141.92L507.39 138.64L510.66 138.64L510.66 135.37L513.93 135.37L513.93 132.10L517.20 132.10L517.20 128.83L520.47 128.83L520.47 125.56L523.75 125.56L523.75 122.29L527.02 122.29L527.02 119.02L530.29 119.02L530.29 115.75L533.56 115.75L533.56 112.47ZM536.83 125.56L536.83 128.83L533.56 128.83L533.56 132.10L530.29 132.10L530.29 135.37L527.02 135.37L527.02 138.64L523.75 138.64L523.75 141.92L520.47 141.92L520.47 145.19L517.20 145.19L517.20 148.46L513.93 148.46L513.93 151.73L510.66 151.73L510.66 155.00L507.39 155.00L507.39 158.27L504.12 158.27L504.12 161.54L500.85 161.54L500.85 164.81L497.58 164.81L497.58 168.09L494.30 168.09L494.30 171.36L504.12 171.36L504.12 168.09L507.39 168.09L507.39 164.81L510.66 164.81L510.66 161.54L513.93 161.54L513.93 158.27L517.20 158.27L517.20 155.00L520.47 155.00L520.47 151.73L523.75 151.73L523.75 148.46L527.02 148.46L527.02 145.19L530.29 145.19L530.29 141.92L533.56 141.92L533.56 138.64L536.83 138.64L536.83 135.37L540.10 135.37L540.10 132.10L543.37 132.10L543.37 128.83L546.64 128.83L546.64 125.56ZM536.83 151.73L536.83 155.00L533.56 155.00L533.56 158.27L530.29 158.27L530.29 161.54L527.02 161.54L527.02 164.81L523.75 164.81L523.75 168.09L520.47 168.09L520.47 171.36L517.20 171.36L517.20 174.63L513.93 174.63L513.93 177.90L510.66 177.90L510.66 181.17L507.39 181.17L507.39 184.44L504.12 184.44L504.12 187.71L500.85 187.71L500.85 190.98L497.58 190.98L497.58 194.26L494.30 194.26L494.30 197.53L504.12 197.53L504.12 194.26L507.39 194.26L507.39 190.98L510.66 190.98L510.66 187.71L513.93 187.71L513.93 184.44L517.20 184.44L517.20 181.17L520.47 181.17L520.47 177.90L523.75 177.90L523.75 174.63L527.02 174.63L527.02 171.36L530.29 171.36L530.29 168.09L533.56 168.09L533.56 164.81L536.83 164.81L536.83 161.54L540.10 161.54L540.10 158.27L543.37 158.27L543.37 155.00L546.64 155.00L546.64 151.73ZM536.83 177.90L536.83 181.17L533.56 181.17L533.56 184.44L530.29 184.44L530.29 187.71L527.02 187.71L527.02 190.98L523.75 190.98L523.75 194.26L520.47 194.26L520.47 197.53L517.20 197.53L517.20 200.80L513.93 200.80L513.93 204.07L510.66 204.07L510.66 207.34L507.39 207.34L507.39 210.61L504.12 210.61L504.12 213.88L500.85 213.88L500.85 217.16L497.58 217.16L497.58 220.43L494.30 220.43L494.30 223.70L504.12 223.70L504.12 220.43L507.39 220.43L507.39 217.16L510.66 217.16L510.66 213.88L513.93 213.88L513.93 210.61L517.20 210.61L517.20 207.34L520.47 207.34L520.47 204.07L523.75 204.07L523.75 200.80L527.02 200.80L527.02 197.53L530.29 197.53L530.29 194.26L533.56 194.26L533.56 190.98L536.83 190.98L536.83 187.71L540.10 187.71L540.10 184.44L543.37 184.44L543.37 181.17L546.64 181.17L546.64 177.90ZM536.83 204.07L536.83 207.34L533.56 207.34L533.56 210.61L530.29 210.61L530.29 213.88L527.02 213.88L527.02 217.16L523.75 217.16L523.75 220.43L520.47 220.43L520.47 223.70L517.20 223.70L517.20 226.97L513.93 226.97L513.93 230.24L510.66 230.24L510.66 233.51L507.39 233.51L507.39 236.78L504.12 236.78L504.12 240.05L500.85 240.05L500.85 243.32L497.58 243.32L497.58 246.60L494.30 246.60L494.30 249.87L504.12 249.87L504.12 246.60L507.39 246.60L507.39 243.32L510.66 243.32L510.66 240.05L513.93 240.05L513.93 236.78L517.20 236.78L517.20 233.51L520.47 233.51L520.47 230.24L523.75 230.24L523.75 226.97L527.02 226.97L527.02 223.70L530.29 223.70L530.29 220.43L533.56 220.43L533.56 217.16L536.83 217.16L536.83 213.88L540.10 213.88L540.10 210.61L543.37 210.61L543.37 207.34L546.64 207.34L546.64 204.07ZM536.83 230.24L536.83 233.51L533.56 233.51L533.56 236.78L530.29 236.78L530.29 240.05L527.02 240.05L527.02 243.32L523.75 243.32L523.75 246.60L520.47 246.60L520.47 249.87L517.20 249.87L517.20 253.14L513.93 253.14L513.93 256.41L510.66 256.41L510.66 259.68L507.39 259.68L507.39 262.95L504.12 262.95L504.12 266.22L500.85 266.22L500.85 269.50L497.58 269.50L497.58 272.77L494.30 272.77L494.30 276.04L504.12 276.04L504.12 272.77L507.39 272.77L507.39 269.50L510.66 269.50L510.66 266.22L513.93 266.22L513.93 262.95L517.20 262.95L517.20 259.68L520.47 259.68L520.47 256.41L523.75 256.41L523.75 253.14L527.02 253.14L527.02 249.87L530.29 249.87L530.29 246.60L533.56 246.60L533.56 243.32L536.83 243.32L536.83 240.05L540.10 240.05L540.10 236.78L543.37 236.78L543.37 233.51L546.64 233.51L546.64 230.24ZM536.83 256.41L536.83 259.68L533.56 259.68L533.56 262.95L530.29 262.95L530.29 266.22L527.02 266.22L527.02 269.50L523.75 269.50L523.75 272.77L520.47 272.77L520.47 276.04L517.20 276.04L517.20 279.31L513.93 279.31L513.93 282.58L510.66 282.58L510.66 285.85L507.39 285.85L507.39 289.12L504.12 289.12L504.12 292.39L500.85 292.39L500.85 295.66L497.58 295.66L497.58 298.94L494.30 298.94L494.30 302.21L504.12 302.21L504.12 298.94L507.39 298.94L507.39 295.66L510.66 295.66L510.66 292.39L513.93 292.39L513.93 289.12L517.20 289.12L517.20 285.85L520.47 285.85L520.47 282.58L523.75 282.58L523.75 279.31L527.02 279.31L527.02 276.04L530.29 276.04L530.29 272.77L533.56 272.77L533.56 269.50L536.83 269.50L536.83 266.22L540.10 266.22L540.10 262.95L543.37 262.95L543.37 259.68L546.64 259.68L546.64 256.41ZM536.83 282.58L536.83 285.85L533.56 285.85L533.56 289.12L530.29 289.12L530.29 292.39L527.02 292.39L527.02 295.66L523.75 295.66L523.75 298.94L520.47 298.94L520.47 302.21L517.20 302.21L517.20 305.48L513.93 305.48L513.93 308.75L510.66 308.75L510.66 312.02L507.39 312.02L507.39 315.29L504.12 315.29L504.12 318.56L500.85 318.56L500.85 321.84L497.58 321.84L497.58 325.11L494.30 325.11L494.30 328.38L504.12 328.38L504.12 325.11L507.39 325.11L507.39 321.84L510.66 321.84L510.66 318.56L513.93 318.56L513.93 315.29L517.20 315.29L517.20 312.02L520.47 312.02L520.47 308.75L523.75 308.75L523.75 305.48L527.02 305.48L527.02 302.21L530.29 302.21L530.29 298.94L533.56 298.94L533.56 295.66L536.83 295.66L536.83 292.39L540.10 292.39L540.10 289.12L543.37 289.12L543.37 285.85L546.64 285.85L546.64 282.58ZM536.83 308.75L536.83 312.02L533.56 312.02L533.56 315.29L530.29 315.29L530.29 318.56L527.02 318.56L527.02 321.84L523.75 321.84L523.75 325.11L520.47 325.11L520.47 328.38L517.20 328.38L517.20 331.65L513.93 331.65L513.93 334.92L510.66 334.92L510.66 338.19L507.39 338.19L507.39 341.46L504.12 341.46L504.12 344.73L500.85 344.73L500.85 348.00L497.58 348.00L497.58 351.28L494.30 351.28L494.30 354.55L504.12 354.55L504.12 351.28L507.39 351.28L507.39 348.00L510.66 348.00L510.66 344.73L513.93 344.73L513.93 341.46L517.20 341.46L517.20 338.19L520.47 338.19L520.47 334.92L523.75 334.92L523.75 331.65L527.02 331.65L527.02 328.38L530.29 328.38L530.29 325.11L533.56 325.11L533.56 321.84L536.83 321.84L536.83 318.56L540.10 318.56L540.10 315.29L543.37 315.29L543.37 312.02L546.64 312.02L546.64 308.75ZM536.83 334.92L536.83 338.19L533.56 338.19L533.56 341.46L530.29 341.46L530.29 344.73L527.02 344.73L527.02 348.00L523.75 348.00L523.75 351.28L520.47 351.28L520.47 354.55L517.20 354.55L517.20 357.82L513.93 357.82L513.93 361.09L510.66 361.09L510.66 364.36L507.39 364.36L507.39 367.63L504.12 367.63L504.12 370.90L500.85 370.90L500.85 374.18L497.58 374.18L497.58 377.45L494.30 377.45L494.30 380.72L504.12 380.72L504.12 377.45L507.39 377.45L507.39 374.18L510.66 374.18L510.66 370.90L513.93 370.90L513.93 367.63L517.20 367.63L517.20 364.36L520.47 364.36L520.47 361.09L523.75 361.09L523.75 357.82L527.02 357.82L527.02 354.55L530.29 354.55L530.29 351.28L533.56 351.28L533.56 348.00L536.83 348.00L536.83 344.73L540.10 344.73L540.10 341.46L543.37 341.46L543.37 338.19L546.64 338.19L546.64 334.92ZM536.83 361.09L536.83 364.36L533.56 364.36L533.56 367.63L530.29 367.63L530.29 370.90L527.02 370.90L527.02 374.18L523.75 374.18L523.75 377.45L520.47 377.45L520.47 380.72L517.20 380.72L517.20 383.99L513.93 383.99L513.93 387.26L510.66 387.26L510.66 390.53L507.39 390.53L507.39 393.80L504.12 393.80L504.12 397.07L500.85 397.07L500.85 400.35L497.58 400.35L497.58 403.62L494.30 403.62L494.30 406.89L504.12 406.89L504.12 403.62L507.39 403.62L507.39 400.35L510.66 400.35L510.66 397.07L513.93 397.07L513.93 393.80L517.20 393.80L517.20 390.53L520.47 390.53L520.47 387.26L523.75 387.26L523.75 383.99L527.02 383.99L527.02 380.72L530.29 380.72L530.29 377.45L533.56 377.45L533.56 374.18L536.83 374.18L536.83 370.90L540.10 370.90L540.10 367.63L543.37 367.63L543.37 364.36L546.64 364.36L546.64 361.09ZM536.83 387.26L536.83 390.53L533.56 390.53L533.56 393.80L530.29 393.80L530.29 397.07L527.02 397.07L527.02 400.35L523.75 400.35L523.75 403.62L520.47 403.62L520.47 406.89L517.20 406.89L517.20 410.16L513.93 410.16L513.93 413.43L510.66 413.43L510.66 416.70L507.39 416.70L507.39 419.97L504.12 419.97L504.12 423.24L500.85 423.24L500.85 426.51L497.58 426.51L497.58 429.79L494.30 429.79L494.30 433.06L504.12 433.06L504.12 429.79L507.39 429.79L507.39 426.51L510.66 426.51L510.66 423.24L513.93 423.24L513.93 419.97L517.20 419.97L517.20 416.70L520.47 416.70L520.47 413.43L523.75 413.43L523.75 410.16L527.02 410.16L527.02 406.89L530.29 406.89L530.29 403.62L533.56 403.62L533.56 400.35L536.83 400.35L536.83 397.07L540.10 397.07L540.10 393.80L543.37 393.80L543.37 390.53L546.64 390.53L546.64 387.26ZM536.83 413.43L536.83 416.70L533.56 416.70L533.56 419.97L530.29 419.97L530.29 423.24L527.02 423.24L527.02 426.51L523.75 426.51L523.75 429.79L520.47 429.79L520.47 433.06L517.20 433.06L517.20 436.33L513.93 436.33L513.93 439.60L510.66 439.60L510.66 442.87L507.39 442.87L507.39 446.14L504.12 446.14L504.12 449.41L500.85 449.41L500.85 452.69L497.58 452.69L497.58 455.96L494.30 455.96L494.30 459.23L504.12 459.23L504.12 455.96L507.39 455.96L507.39 452.69L510.66 452.69L510.66 449.41L513.93 449.41L513.93 446.14L517.20 446.14L517.20 442.87L520.47 442.87L520.47 439.60L523.75 439.60L523.75 436.33L527.02 436.33L527.02 433.06L530.29 433.06L530.29 429.79L533.56 429.79L533.56 426.51L536.83 426.51L536.83 423.24L540.10 423.24L540.10 419.97L543.37 419.97L543.37 416.70L546.64 416.70L546.64 413.43ZM536.83 439.60L536.83 442.87L533.56 442.87L533.56 446.14L530.29 446.14L530.29 449.41L527.02 449.41L527.02 452.69L523.75 452.69L523.75 455.96L520.47 455.96L520.47 459.23L517.20 459.23L517.20 462.50L513.93 462.50L513.93 465.77L510.66 465.77L510.66 469.04L507.39 469.04L507.39 472.31L504.12 472.31L504.12 475.58L500.85 475.58L500.85 478.86L497.58 478.86L497.58 482.13L494.30 482.13L494.30 485.40L504.12 485.40L504.12 482.13L507.39 482.13L507.39 478.86L510.66 478.86L510.66 475.58L513.93 475.58L513.93 472.31L517.20 472.31L517.20 469.04L520.47 469.04L520.47 465.77L523.75 465.77L523.75 462.50L527.02 462.50L527.02 459.23L530.29 459.23L530.29 455.96L533.56 455.96L533.56 452.69L536.83 452.69L536.83 449.41L540.10 449.41L540.10 446.14L543.37 446.14L543.37 442.87L546.64 442.87L546.64 439.60ZM536.83 465.77L536.83 469.04L533.56 469.04L533.56 472.31L530.29 472.31L530.29 475.58L527.02 475.58L527.02 478.86L523.75 478.86L523.75 482.13L520.47 482.13L520.47 485.40L517.20 485.40L517.20 488.67L513.93 488.67L513.93 491.94L510.66 491.94L510.66 495.21L507.39 495.21L507.39 498.48L504.12 498.48L504.12 501.75L500.85 501.75L500.85 505.03L497.58 505.03L497.58 508.30L494.30 508.30L494.30 511.57L504.12 511.57L504.12 508.30L507.39 508.30L507.39 505.03L510.66 505.03L510.66 501.75L513.93 501.75L513.93 498.48L517.20 498.48L517.20 495.21L520.47 495.21L520.47 491.94L523.75 491.94L523.75 488.67L527.02 488.67L527.02 485.40L530.29 485.40L530.29 482.13L533.56 482.13L533.56 478.86L536.83 478.86L536.83 475.58L540.10 475.58L540.10 472.31L543.37 472.31L543.37 469.04L546.64 469.04L546.64 465.77ZM536.83 491.94L536.83 495.21L533.56 495.21L533.56 498.48L530.29 498.48L530.29 501.75L527.02 501.75L527.02 505.03L523.75 505.03L523.75 508.30L520.47 508.30L520.47 511.57L517.20 511.57L517.20 514.84L513.93 514.84L513.93 518.11L510.66 518.11L510.66 521.38L507.39 521.38L507.39 524.65L504.12 524.65L504.12 527.92L500.85 527.92L500.85 531.19L497.58 531.19L497.58 534.47L494.30 534.47L494.30 537.74L504.12 537.74L504.12 534.47L507.39 534.47L507.39 531.19L510.66 531.19L510.66 527.92L513.93 527.92L513.93 524.65L517.20 524.65L517.20 521.38L520.47 521.38L520.47 518.11L523.75 518.11L523.75 514.84L527.02 514.84L527.02 511.57L530.29 511.57L530.29 508.30L533.56 508.30L533.56 505.03L536.83 505.03L536.83 501.75L540.10 501.75L540.10 498.48L543.37 498.48L543.37 495.21L546.64 495.21L546.64 491.94ZM536.83 518.11L536.83 521.38L533.56 521.38L533.56 524.65L530.29 524.65L530.29 527.92L527.02 527.92L527.02 531.19L523.75 531.19L523.75 534.47L520.47 534.47L520.47 537.74L517.20 537.74L517.20 541.01L513.93 541.01L513.93 544.28L510.66 544.28L510.66 547.55L507.39 547.55L507.39 550.82L504.12 550.82L504.12 554.09L500.85 554.09L500.85 557.37L497.58 557.37L497.58 560.64L494.30 560.64L494.30 563.91L504.12 563.91L504.12 560.64L507.39 560.64L507.39 557.37L510.66 557.37L510.66 554.09L513.93 554.09L513.93 550.82L517.20 550.82L517.20 547.55L520.47 547.55L520.47 544.28L523.75 544.28L523.75 541.01L527.02 541.01L527.02 537.74L530.29 537.74L530.29 534.47L533.56 534.47L533.56 531.19L536.83 531.19L536.83 527.92L540.10 527.92L540.10 524.65L543.37 524.65L543.37 521.38L546.64 521.38L546.64 518.11ZM536.83 544.28L536.83 547.55L533.56 547.55L533.56 550.82L530.29 550.82L530.29 554.09L527.02 554.09L527.02 557.37L523.75 557.37L523.75 560.64L520.47 560.64L520.47 563.91L517.20 563.91L517.20 567.18L513.93 567.18L513.93 570.45L510.66 570.45L510.66 573.72L507.39 573.72L507.39 576.99L517.20 576.99L517.20 573.72L520.47 573.72L520.47 570.45L523.75 570.45L523.75 567.18L527.02 567.18L527.02 563.91L530.29 563.91L530.29 560.64L533.56 560.64L533.56 557.37L536.83 557.37L536.83 554.09L540.10 554.09L540.10 550.82L543.37 550.82L543.37 547.55L546.64 547.55L546.64 544.28ZM536.83 570.45L536.83 573.72L533.56 573.72L533.56 576.99L543.37 576.99L543.37 573.72L546.64 573.72L546.64 570.45Z"/>
<rect x="539.65" y="378.30" width="34.70" height="189.55" fill="#2E5597"/>
<clipPath id="c4"><rect x="627.65" y="139.80" width="34.50" height="428.05"/></clipPath>
<rect x="627.65" y="139.80" width="34.50" height="428.05" fill="#fff"/>
<path clip-path="url(#c4)" fill="#2E5597" d="M631.70 135.37L631.70 138.64L628.43 138.64L628.43 141.92L625.15 141.92L625.15 145.19L621.88 145.19L621.88 148.46L618.61 148.46L618.61 151.73L628.43 151.73L628.43 148.46L631.70 148.46L631.70 145.19L634.97 145.19L634.97 141.92L638.24 141.92L638.24 138.64L641.51 138.64L641.51 135.37ZM657.87 135.37L657.87 138.64L654.60 138.64L654.60 141.92L651.32 141.92L651.32 145.19L648.05 145.19L648.05 148.46L644.78 148.46L644.78 151.73L641.51 151.73L641.51 155.00L638.24 155.00L638.24 158.27L634.97 158.27L634.97 161.54L631.70 161.54L631.70 164.81L628.43 164.81L628.43 168.09L625.15 168.09L625.15 171.36L621.88 171.36L621.88 174.63L618.61 174.63L618.61 177.90L628.43 177.90L628.43 174.63L631.70 174.63L631.70 171.36L634.97 171.36L634.97 168.09L638.24 168.09L638.24 164.81L641.51 164.81L641.51 161.54L644.78 161.54L644.78 158.27L648.05 158.27L648.05 155.00L651.32 155.00L651.32 151.73L654.60 151.73L654.60 148.46L657.87 148.46L657.87 145.19L661.14 145.19L661.14 141.92L664.41 141.92L664.41 138.64L667.68 138.64L667.68 135.37ZM661.14 158.27L661.14 161.54L657.87 161.54L657.87 164.81L654.60 164.81L654.60 168.09L651.32 168.09L651.32 171.36L648.05 171.36L648.05 174.63L644.78 174.63L644.78 177.90L641.51 177.90L641.51 181.17L638.24 181.17L638.24 184.44L634.97 184.44L634.97 187.71L631.70 187.71L631.70 190.98L628.43 190.98L628.43 194.26L625.15 194.26L625.15 197.53L621.88 197.53L621.88 200.80L618.61 200.80L618.61 204.07L628.43 204.07L628.43 200.80L631.70 200.80L631.70 197.53L634.97 197.53L634.97 194.26L638.24 194.26L638.24 190.98L641.51 190.98L641.51 187.71L644.78 187.71L644.78 184.44L648.05 184.44L648.05 181.17L651.32 181.17L651.32 177.90L654.60 177.90L654.60 174.63L657.87 174.63L657.87 171.36L661.14 171.36L661.14 168.09L664.41 168.09L664.41 164.81L667.68 164.81L667.68 161.54L670.95 161.54L670.95 158.27ZM661.14 184.44L661.14 187.71L657.87 187.71L657.87 190.98L654.60 190.98L654.60 194.26L651.32 194.26L651.32 197.53L648.05 197.53L648.05 200.80L644.78 200.80L644.78 204.07L641.51 204.07L641.51 207.34L638.24 207.34L638.24 210.61L634.97 210.61L634.97 213.88L631.70 213.88L631.70 217.16L628.43 217.16L628.43 220.43L625.15 220.43L625.15 223.70L621.88 223.70L621.88 226.97L618.61 226.97L618.61 230.24L628.43 230.24L628.43 226.97L631.70 226.97L631.70 223.70L634.97 223.70L634.97 220.43L638.24 220.43L638.24 217.16L641.51 217.16L641.51 213.88L644.78 213.88L644.78 210.61L648.05 210.61L648.05 207.34L651.32 207.34L651.32 204.07L654.60 204.07L654.60 200.80L657.87 200.80L657.87 197.53L661.14 197.53L661.14 194.26L664.41 194.26L664.41 190.98L667.68 190.98L667.68 187.71L670.95 187.71L670.95 184.44ZM661.14 210.61L661.14 213.88L657.87 213.88L657.87 217.16L654.60 217.16L654.60 220.43L651.32 220.43L651.32 223.70L648.05 223.70L648.05 226.97L644.78 226.97L644.78 230.24L641.51 230.24L641.51 233.51L638.24 233.51L638.24 236.78L634.97 236.78L634.97 240.05L631.70 240.05L631.70 243.32L628.43 243.32L628.43 246.60L625.15 246.60L625.15 249.87L621.88 249.87L621.88 253.14L618.61 253.14L618.61 256.41L628.43 256.41L628.43 253.14L631.70 253.14L631.70 249.87L634.97 249.87L634.97 246.60L638.24 246.60L638.24 243.32L641.51 243.32L641.51 240.05L644.78 240.05L644.78 236.78L648.05 236.78L648.05 233.51L651.32 233.51L651.32 230.24L654.60 230.24L654.60 226.97L657.87 226.97L657.87 223.70L661.14 223.70L661.14 220.43L664.41 220.43L664.41 217.16L667.68 217.16L667.68 213.88L670.95 213.88L670.95 210.61ZM661.14 236.78L661.14 240.05L657.87 240.05L657.87 243.32L654.60 243.32L654.60 246.60L651.32 246.60L651.32 249.87L648.05 249.87L648.05 253.14L644.78 253.14L644.78 256.41L641.51 256.41L641.51 259.68L638.24 259.68L638.24 262.95L634.97 262.95L634.97 266.22L631.70 266.22L631.70 269.50L628.43 269.50L628.43 272.77L625.15 272.77L625.15 276.04L621.88 276.04L621.88 279.31L618.61 279.31L618.61 282.58L628.43 282.58L628.43 279.31L631.70 279.31L631.70 276.04L634.97 276.04L634.97 272.77L638.24 272.77L638.24 269.50L641.51 269.50L641.51 266.22L644.78 266.22L644.78 262.95L648.05 262.95L648.05 259.68L651.32 259.68L651.32 256.41L654.60 256.41L654.60 253.14L657.87 253.14L657.87 249.87L661.14 249.87L661.14 246.60L664.41 246.60L664.41 243.32L667.68 243.32L667.68 240.05L670.95 240.05L670.95 236.78ZM661.14 262.95L661.14 266.22L657.87 266.22L657.87 269.50L654.60 269.50L654.60 272.77L651.32 272.77L651.32 276.04L648.05 276.04L648.05 279.31L644.78 279.31L644.78 282.58L641.51 282.58L641.51 285.85L638.24 285.85L638.24 289.12L634.97 289.12L634.97 292.39L631.70 292.39L631.70 295.66L628.43 295.66L628.43 298.94L625.15 298.94L625.15 302.21L621.88 302.21L621.88 305.48L618.61 305.48L618.61 308.75L628.43 308.75L628.43 305.48L631.70 305.48L631.70 302.21L634.97 302.21L634.97 298.94L638.24 298.94L638.24 295.66L641.51 295.66L641.51 292.39L644.78 292.39L644.78 289.12L648.05 289.12L648.05 285.85L651.32 285.85L651.32 282.58L654.60 282.58L654.60 279.31L657.87 279.31L657.87 276.04L661.14 276.04L661.14 272.77L664.41 272.77L664.41 269.50L667.68 269.50L667.68 266.22L670.95 266.22L670.95 262.95ZM661.14 289.12L661.14 292.39L657.87 292.39L657.87 295.66L654.60 295.66L654.60 298.94L651.32 298.94L651.32 302.21L648.05 302.21L648.05 305.48L644.78 305.48L644.78 308.75L641.51 308.75L641.51 312.02L638.24 312.02L638.24 315.29L634.97 315.29L634.97 318.56L631.70 318.56L631.70 321.84L628.43 321.84L628.43 325.11L625.15 325.11L625.15 328.38L621.88 328.38L621.88 331.65L618.61 331.65L618.61 334.92L628.43 334.92L628.43 331.65L631.70 331.65L631.70 328.38L634.97 328.38L634.97 325.11L638.24 325.11L638.24 321.84L641.51 321.84L641.51 318.56L644.78 318.56L644.78 315.29L648.05 315.29L648.05 312.02L651.32 312.02L651.32 308.75L654.60 308.75L654.60 305.48L657.87 305.48L657.87 302.21L661.14 302.21L661.14 298.94L664.41 298.94L664.41 295.66L667.68 295.66L667.68 292.39L670.95 292.39L670.95 289.12ZM661.14 315.29L661.14 318.56L657.87 318.56L657.87 321.84L654.60 321.84L654.60 325.11L651.32 325.11L651.32 328.38L648.05 328.38L648.05 331.65L644.78 331.65L644.78 334.92L641.51 334.92L641.51 338.19L638.24 338.19L638.24 341.46L634.97 341.46L634.97 344.73L631.70 344.73L631.70 348.00L628.43 348.00L628.43 351.28L625.15 351.28L625.15 354.55L621.88 354.55L621.88 357.82L618.61 357.82L618.61 361.09L628.43 361.09L628.43 357.82L631.70 357.82L631.70 354.55L634.97 354.55L634.97 351.28L638.24 351.28L638.24 348.00L641.51 348.00L641.51 344.73L644.78 344.73L644.78 341.46L648.05 341.46L648.05 338.19L651.32 338.19L651.32 334.92L654.60 334.92L654.60 331.65L657.87 331.65L657.87 328.38L661.14 328.38L661.14 325.11L664.41 325.11L664.41 321.84L667.68 321.84L667.68 318.56L670.95 318.56L670.95 315.29ZM661.14 341.46L661.14 344.73L657.87 344.73L657.87 348.00L654.60 348.00L654.60 351.28L651.32 351.28L651.32 354.55L648.05 354.55L648.05 357.82L644.78 357.82L644.78 361.09L641.51 361.09L641.51 364.36L638.24 364.36L638.24 367.63L634.97 367.63L634.97 370.90L631.70 370.90L631.70 374.18L628.43 374.18L628.43 377.45L625.15 377.45L625.15 380.72L621.88 380.72L621.88 383.99L618.61 383.99L618.61 387.26L628.43 387.26L628.43 383.99L631.70 383.99L631.70 380.72L634.97 380.72L634.97 377.45L638.24 377.45L638.24 374.18L641.51 374.18L641.51 370.90L644.78 370.90L644.78 367.63L648.05 367.63L648.05 364.36L651.32 364.36L651.32 361.09L654.60 361.09L654.60 357.82L657.87 357.82L657.87 354.55L661.14 354.55L661.14 351.28L664.41 351.28L664.41 348.00L667.68 348.00L667.68 344.73L670.95 344.73L670.95 341.46ZM661.14 367.63L661.14 370.90L657.87 370.90L657.87 374.18L654.60 374.18L654.60 377.45L651.32 377.45L651.32 380.72L648.05 380.72L648.05 383.99L644.78 383.99L644.78 387.26L641.51 387.26L641.51 390.53L638.24 390.53L638.24 393.80L634.97 393.80L634.97 397.07L631.70 397.07L631.70 400.35L628.43 400.35L628.43 403.62L625.15 403.62L625.15 406.89L621.88 406.89L621.88 410.16L618.61 410.16L618.61 413.43L628.43 413.43L628.43 410.16L631.70 410.16L631.70 406.89L634.97 406.89L634.97 403.62L638.24 403.62L638.24 400.35L641.51 400.35L641.51 397.07L644.78 397.07L644.78 393.80L648.05 393.80L648.05 390.53L651.32 390.53L651.32 387.26L654.60 387.26L654.60 383.99L657.87 383.99L657.87 380.72L661.14 380.72L661.14 377.45L664.41 377.45L664.41 374.18L667.68 374.18L667.68 370.90L670.95 370.90L670.95 367.63ZM661.14 393.80L661.14 397.07L657.87 397.07L657.87 400.35L654.60 400.35L654.60 403.62L651.32 403.62L651.32 406.89L648.05 406.89L648.05 410.16L644.78 410.16L644.78 413.43L641.51 413.43L641.51 416.70L638.24 416.70L638.24 419.97L634.97 419.97L634.97 423.24L631.70 423.24L631.70 426.51L628.43 426.51L628.43 429.79L625.15 429.79L625.15 433.06L621.88 433.06L621.88 436.33L618.61 436.33L618.61 439.60L628.43 439.60L628.43 436.33L631.70 436.33L631.70 433.06L634.97 433.06L634.97 429.79L638.24 429.79L638.24 426.51L641.51 426.51L641.51 423.24L644.78 423.24L644.78 419.97L648.05 419.97L648.05 416.70L651.32 416.70L651.32 413.43L654.60 413.43L654.60 410.16L657.87 410.16L657.87 406.89L661.14 406.89L661.14 403.62L664.41 403.62L664.41 400.35L667.68 400.35L667.68 397.07L670.95 397.07L670.95 393.80ZM661.14 419.97L661.14 423.24L657.87 423.24L657.87 426.51L654.60 426.51L654.60 429.79L651.32 429.79L651.32 433.06L648.05 433.06L648.05 436.33L644.78 436.33L644.78 439.60L641.51 439.60L641.51 442.87L638.24 442.87L638.24 446.14L634.97 446.14L634.97 449.41L631.70 449.41L631.70 452.69L628.43 452.69L628.43 455.96L625.15 455.96L625.15 459.23L621.88 459.23L621.88 462.50L618.61 462.50L618.61 465.77L628.43 465.77L628.43 462.50L631.70 462.50L631.70 459.23L634.97 459.23L634.97 455.96L638.24 455.96L638.24 452.69L641.51 452.69L641.51 449.41L644.78 449.41L644.78 446.14L648.05 446.14L648.05 442.87L651.32 442.87L651.32 439.60L654.60 439.60L654.60 436.33L657.87 436.33L657.87 433.06L661.14 433.06L661.14 429.79L664.41 429.79L664.41 426.51L667.68 426.51L667.68 423.24L670.95 423.24L670.95 419.97ZM661.14 446.14L661.14 449.41L657.87 449.41L657.87 452.69L654.60 452.69L654.60 455.96L651.32 455.96L651.32 459.23L648.05 459.23L648.05 462.50L644.78 462.50L644.78 465.77L641.51 465.77L641.51 469.04L638.24 469.04L638.24 472.31L634.97 472.31L634.97 475.58L631.70 475.58L631.70 478.86L628.43 478.86L628.43 482.13L625.15 482.13L625.15 485.40L621.88 485.40L621.88 488.67L618.61 488.67L618.61 491.94L628.43 491.94L628.43 488.67L631.70 488.67L631.70 485.40L634.97 485.40L634.97 482.13L638.24 482.13L638.24 478.86L641.51 478.86L641.51 475.58L644.78 475.58L644.78 472.31L648.05 472.31L648.05 469.04L651.32 469.04L651.32 465.77L654.60 465.77L654.60 462.50L657.87 462.50L657.87 459.23L661.14 459.23L661.14 455.96L664.41 455.96L664.41 452.69L667.68 452.69L667.68 449.41L670.95 449.41L670.95 446.14ZM661.14 472.31L661.14 475.58L657.87 475.58L657.87 478.86L654.60 478.86L654.60 482.13L651.32 482.13L651.32 485.40L648.05 485.40L648.05 488.67L644.78 488.67L644.78 491.94L641.51 491.94L641.51 495.21L638.24 495.21L638.24 498.48L634.97 498.48L634.97 501.75L631.70 501.75L631.70 505.03L628.43 505.03L628.43 508.30L625.15 508.30L625.15 511.57L621.88 511.57L621.88 514.84L618.61 514.84L618.61 518.11L628.43 518.11L628.43 514.84L631.70 514.84L631.70 511.57L634.97 511.57L634.97 508.30L638.24 508.30L638.24 505.03L641.51 505.03L641.51 501.75L644.78 501.75L644.78 498.48L648.05 498.48L648.05 495.21L651.32 495.21L651.32 491.94L654.60 491.94L654.60 488.67L657.87 488.67L657.87 485.40L661.14 485.40L661.14 482.13L664.41 482.13L664.41 478.86L667.68 478.86L667.68 475.58L670.95 475.58L670.95 472.31ZM661.14 498.48L661.14 501.75L657.87 501.75L657.87 505.03L654.60 505.03L654.60 508.30L651.32 508.30L651.32 511.57L648.05 511.57L648.05 514.84L644.78 514.84L644.78 518.11L641.51 518.11L641.51 521.38L638.24 521.38L638.24 524.65L634.97 524.65L634.97 527.92L631.70 527.92L631.70 531.19L628.43 531.19L628.43 534.47L625.15 534.47L625.15 537.74L621.88 537.74L621.88 541.01L618.61 541.01L618.61 544.28L628.43 544.28L628.43 541.01L631.70 541.01L631.70 537.74L634.97 537.74L634.97 534.47L638.24 534.47L638.24 531.19L641.51 531.19L641.51 527.92L644.78 527.92L644.78 524.65L648.05 524.65L648.05 521.38L651.32 521.38L651.32 518.11L654.60 518.11L654.60 514.84L657.87 514.84L657.87 511.57L661.14 511.57L661.14 508.30L664.41 508.30L664.41 505.03L667.68 505.03L667.68 501.75L670.95 501.75L670.95 498.48ZM661.14 524.65L661.14 527.92L657.87 527.92L657.87 531.19L654.60 531.19L654.60 534.47L651.32 534.47L651.32 537.74L648.05 537.74L648.05 541.01L644.78 541.01L644.78 544.28L641.51 544.28L641.51 547.55L638.24 547.55L638.24 550.82L634.97 550.82L634.97 554.09L631.70 554.09L631.70 557.37L628.43 557.37L628.43 560.64L625.15 560.64L625.15 563.91L621.88 563.91L621.88 567.18L618.61 567.18L618.61 570.45L628.43 570.45L628.43 567.18L631.70 567.18L631.70 563.91L634.97 563.91L634.97 560.64L638.24 560.64L638.24 557.37L641.51 557.37L641.51 554.09L644.78 554.09L644.78 550.82L648.05 550.82L648.05 547.55L651.32 547.55L651.32 544.28L654.60 544.28L654.60 541.01L657.87 541.01L657.87 537.74L661.14 537.74L661.14 534.47L664.41 534.47L664.41 531.19L667.68 531.19L667.68 527.92L670.95 527.92L670.95 524.65ZM661.14 550.82L661.14 554.09L657.87 554.09L657.87 557.37L654.60 557.37L654.60 560.64L651.32 560.64L651.32 563.91L648.05 563.91L648.05 567.18L644.78 567.18L644.78 570.45L641.51 570.45L641.51 573.72L638.24 573.72L638.24 576.99L648.05 576.99L648.05 573.72L651.32 573.72L651.32 570.45L654.60 570.45L654.60 567.18L657.87 567.18L657.87 563.91L661.14 563.91L661.14 560.64L664.41 560.64L664.41 557.37L667.68 557.37L667.68 554.09L670.95 554.09L670.95 550.82Z"/>
<rect x="664.00" y="528.70" width="34.70" height="39.15" fill="#2E5597"/>
<line x1="121.90" y1="568.85" x2="743.80" y2="568.85" stroke="#D6D6D6" stroke-width="2.00"/>
<path d="M141.05 170.70H153.95M147.50 170.70V236.80M141.05 236.80H153.95" stroke="#555555" stroke-width="2.00" stroke-linecap="round" fill="none"/>
<path d="M265.45 114.00H278.35M271.90 114.00V224.30M265.45 224.30H278.35" stroke="#555555" stroke-width="2.00" stroke-linecap="round" fill="none"/>
<path d="M389.95 224.70H402.85M396.40 224.70V312.70M389.95 312.70H402.85" stroke="#555555" stroke-width="2.00" stroke-linecap="round" fill="none"/>
<path d="M514.15 73.90H527.05M520.60 73.90V162.10M514.15 162.10H527.05" stroke="#555555" stroke-width="2.00" stroke-linecap="round" fill="none"/>
<path d="M638.85 128.60H651.75M645.30 128.60V150.40M638.85 150.40H651.75" stroke="#555555" stroke-width="2.00" stroke-linecap="round" fill="none"/>
<path d="M177.35 555.60H190.25M183.80 555.60V565.20M177.35 565.20H190.25" stroke="#555555" stroke-width="2.00" stroke-linecap="round" fill="none"/>
<path d="M301.85 511.70H314.75M308.30 511.70V556.20M301.85 556.20H314.75" stroke="#555555" stroke-width="2.00" stroke-linecap="round" fill="none"/>
<path d="M426.15 411.70H439.05M432.60 411.70V477.80M426.15 477.80H439.05" stroke="#555555" stroke-width="2.00" stroke-linecap="round" fill="none"/>
<path d="M550.75 333.80H563.65M557.20 333.80V421.90M550.75 421.90H563.65" stroke="#555555" stroke-width="2.00" stroke-linecap="round" fill="none"/>
<path d="M675.25 507.00H688.15M681.70 507.00V550.70M675.25 550.70H688.15" stroke="#555555" stroke-width="2.00" stroke-linecap="round" fill="none"/>
<text transform="translate(91.7 23.42) scale(0.965 1)" font-size="31.1" text-anchor="end">320</text>
<text transform="translate(91.7 92.79) scale(0.965 1)" font-size="31.1" text-anchor="end">280</text>
<text transform="translate(91.7 162.15) scale(0.965 1)" font-size="31.1" text-anchor="end">240</text>
<text transform="translate(91.7 231.52) scale(0.965 1)" font-size="31.1" text-anchor="end">200</text>
<text transform="translate(91.7 300.89) scale(0.965 1)" font-size="31.1" text-anchor="end">160</text>
<text transform="translate(91.7 370.25) scale(0.965 1)" font-size="31.1" text-anchor="end">120</text>
<text transform="translate(91.7 439.62) scale(0.965 1)" font-size="31.1" text-anchor="end">80</text>
<text transform="translate(91.7 508.98) scale(0.965 1)" font-size="31.1" text-anchor="end">40</text>
<text transform="translate(91.7 578.35) scale(0.965 1)" font-size="31.1" text-anchor="end">0</text>
<text x="184.07" y="615.4" font-size="26.5" text-anchor="middle" textLength="80.5" lengthAdjust="spacingAndGlyphs">0-3 cm</text>
<text x="308.42" y="615.4" font-size="26.5" text-anchor="middle" textLength="80.5" lengthAdjust="spacingAndGlyphs">3-6 cm</text>
<text x="432.77" y="615.4" font-size="26.5" text-anchor="middle" textLength="80.5" lengthAdjust="spacingAndGlyphs">6-8 cm</text>
<text x="557.12" y="615.4" font-size="26.5" text-anchor="middle" textLength="96.5" lengthAdjust="spacingAndGlyphs">8-10 cm</text>
<text x="681.47" y="615.4" font-size="26.5" text-anchor="middle" textLength="112.5" lengthAdjust="spacingAndGlyphs">10-12 cm</text>
<text x="337.10" y="664.30" font-size="29.30" textLength="51.00" lengthAdjust="spacingAndGlyphs">Hair</text>
<text x="400.20" y="664.30" font-size="29.30" textLength="128.00" lengthAdjust="spacingAndGlyphs">segments</text>
<g transform="translate(23.6 480) rotate(-90)">
<text x="-2.10" y="0.00" font-size="30.00" textLength="57.30" lengthAdjust="spacingAndGlyphs">DOX</text>
<text x="61.10" y="0.00" font-size="30.00" textLength="49.50" lengthAdjust="spacingAndGlyphs">and</text>
<text x="114.60" y="0.00" font-size="30.00" textLength="57.70" lengthAdjust="spacingAndGlyphs">HAL</text>
<text x="180.40" y="0.00" font-size="30.00" textLength="200.20" lengthAdjust="spacingAndGlyphs">concentrations</text>
</g>
<clipPath id="lc"><rect x="152.10" y="710.10" width="19.15" height="19.15"/></clipPath>
<path clip-path="url(#lc)" fill="#2E5597" d="M167.18 704.57L167.18 707.84L163.91 707.84L163.91 711.11L160.64 711.11L160.64 714.38L157.37 714.38L157.37 717.66L154.09 717.66L154.09 720.93L150.82 720.93L150.82 724.20L147.55 724.20L147.55 727.47L144.28 727.47L144.28 730.74L154.09 730.74L154.09 727.47L157.37 727.47L157.37 724.20L160.64 724.20L160.64 720.93L163.91 720.93L163.91 717.66L167.18 717.66L167.18 714.38L170.45 714.38L170.45 711.11L173.72 711.11L173.72 707.84L176.99 707.84L176.99 704.57ZM170.45 727.47L170.45 730.74L167.18 730.74L167.18 734.01L163.91 734.01L163.91 737.28L173.72 737.28L173.72 734.01L176.99 734.01L176.99 730.74L180.26 730.74L180.26 727.47Z"/>
<text x="179.50" y="729.30" font-size="30.30" textLength="56.50" lengthAdjust="spacingAndGlyphs">HAL</text>
<text x="243.50" y="729.30" font-size="30.30" textLength="111.00" lengthAdjust="spacingAndGlyphs">(pg/mg)</text>
<rect x="376.9" y="710.5" width="18.8" height="18.8" fill="#2E5597"/>
<text x="403.60" y="729.30" font-size="30.30" textLength="61.50" lengthAdjust="spacingAndGlyphs">DOX</text>
<text x="473.60" y="729.30" font-size="30.30" textLength="111.00" lengthAdjust="spacingAndGlyphs">(pg/mg)</text>
<line x1="1022.00" y1="13.92" x2="1523.00" y2="13.92" stroke="#D6D6D6" stroke-width="2.00"/>
<line x1="1022.00" y1="71.17" x2="1523.00" y2="71.17" stroke="#D6D6D6" stroke-width="2.00"/>
<line x1="1022.00" y1="128.41" x2="1523.00" y2="128.41" stroke="#D6D6D6" stroke-width="2.00"/>
<line x1="1022.00" y1="185.66" x2="1523.00" y2="185.66" stroke="#D6D6D6" stroke-width="2.00"/>
<line x1="1022.00" y1="242.90" x2="1523.00" y2="242.90" stroke="#D6D6D6" stroke-width="2.00"/>
<line x1="1022.00" y1="300.15" x2="1523.00" y2="300.15" stroke="#D6D6D6" stroke-width="2.00"/>
<line x1="1022.00" y1="357.39" x2="1523.00" y2="357.39" stroke="#D6D6D6" stroke-width="2.00"/>
<line x1="1022.00" y1="414.64" x2="1523.00" y2="414.64" stroke="#D6D6D6" stroke-width="2.00"/>
<line x1="1022.00" y1="471.88" x2="1523.00" y2="471.88" stroke="#D6D6D6" stroke-width="2.00"/>
<line x1="1022.00" y1="529.12" x2="1523.00" y2="529.12" stroke="#D6D6D6" stroke-width="2.00"/>
<rect x="1048.30" y="421.80" width="47.80" height="165.67" fill="#C1E4F5" stroke="#0B3A59" stroke-width="2.2"/>
<rect x="1148.45" y="353.20" width="47.80" height="234.27" fill="#C1E4F5" stroke="#0B3A59" stroke-width="2.2"/>
<rect x="1248.60" y="321.70" width="47.80" height="265.77" fill="#C1E4F5" stroke="#0B3A59" stroke-width="2.2"/>
<rect x="1348.75" y="410.10" width="47.80" height="177.37" fill="#C1E4F5" stroke="#0B3A59" stroke-width="2.2"/>
<rect x="1448.90" y="74.50" width="47.80" height="512.97" fill="#C1E4F5" stroke="#0B3A59" stroke-width="2.2"/>
<rect x="1020.00" y="586.37" width="505.00" height="6" fill="#fff"/>
<line x1="1022.00" y1="586.37" x2="1523.00" y2="586.37" stroke="#D6D6D6" stroke-width="2.00"/>
<path d="M1065.85 418.80H1078.55M1072.20 418.80V425.50M1065.85 425.50H1078.55" stroke="#4D4D4D" stroke-width="2.10" stroke-linecap="round" fill="none"/>
<path d="M1166.00 348.50H1178.70M1172.35 348.50V357.90M1166.00 357.90H1178.70" stroke="#4D4D4D" stroke-width="2.10" stroke-linecap="round" fill="none"/>
<path d="M1266.15 316.40H1278.85M1272.50 316.40V327.20M1266.15 327.20H1278.85" stroke="#4D4D4D" stroke-width="2.10" stroke-linecap="round" fill="none"/>
<path d="M1366.30 406.30H1379.00M1372.65 406.30V413.40M1366.30 413.40H1379.00" stroke="#4D4D4D" stroke-width="2.10" stroke-linecap="round" fill="none"/>
<path d="M1466.45 64.40H1479.15M1472.80 64.40V84.80M1466.45 84.80H1479.15" stroke="#4D4D4D" stroke-width="2.10" stroke-linecap="round" fill="none"/>
<text x="994.1" y="24.27" font-size="33.3" text-anchor="end">20000</text>
<text x="994.1" y="81.52" font-size="33.3" text-anchor="end">18000</text>
<text x="994.1" y="138.76" font-size="33.3" text-anchor="end">16000</text>
<text x="994.1" y="196.00" font-size="33.3" text-anchor="end">14000</text>
<text x="994.1" y="253.25" font-size="33.3" text-anchor="end">12000</text>
<text x="994.1" y="310.50" font-size="33.3" text-anchor="end">10000</text>
<text x="994.1" y="367.74" font-size="33.3" text-anchor="end">8000</text>
<text x="994.1" y="424.99" font-size="33.3" text-anchor="end">6000</text>
<text x="994.1" y="482.23" font-size="33.3" text-anchor="end">4000</text>
<text x="994.1" y="539.48" font-size="33.3" text-anchor="end">2000</text>
<text x="994.1" y="596.72" font-size="33.3" text-anchor="end">0</text>
<text x="1072.10" y="631.4" font-size="29.6" text-anchor="middle">0-3 cm</text>
<text x="1172.30" y="631.4" font-size="29.6" text-anchor="middle">3-6 cm</text>
<text x="1272.50" y="631.4" font-size="29.6" text-anchor="middle">6-8 cm</text>
<text x="1372.70" y="631.4" font-size="29.6" text-anchor="middle">8-10</text>
<text x="1372.70" y="664.8" font-size="29.6" text-anchor="middle">cm</text>
<text x="1472.90" y="631.4" font-size="29.6" text-anchor="middle">10-12</text>
<text x="1472.90" y="664.8" font-size="29.6" text-anchor="middle">cm</text>
<text x="1294.7" y="710.6" font-size="34.5" text-anchor="middle">Hair segments</text>
<text transform="translate(886.6 299.5) rotate(-90)" font-size="34.6" text-anchor="middle" textLength="356" lengthAdjust="spacingAndGlyphs">Hair CTP concentrations</text>
</svg>
</body></html>
